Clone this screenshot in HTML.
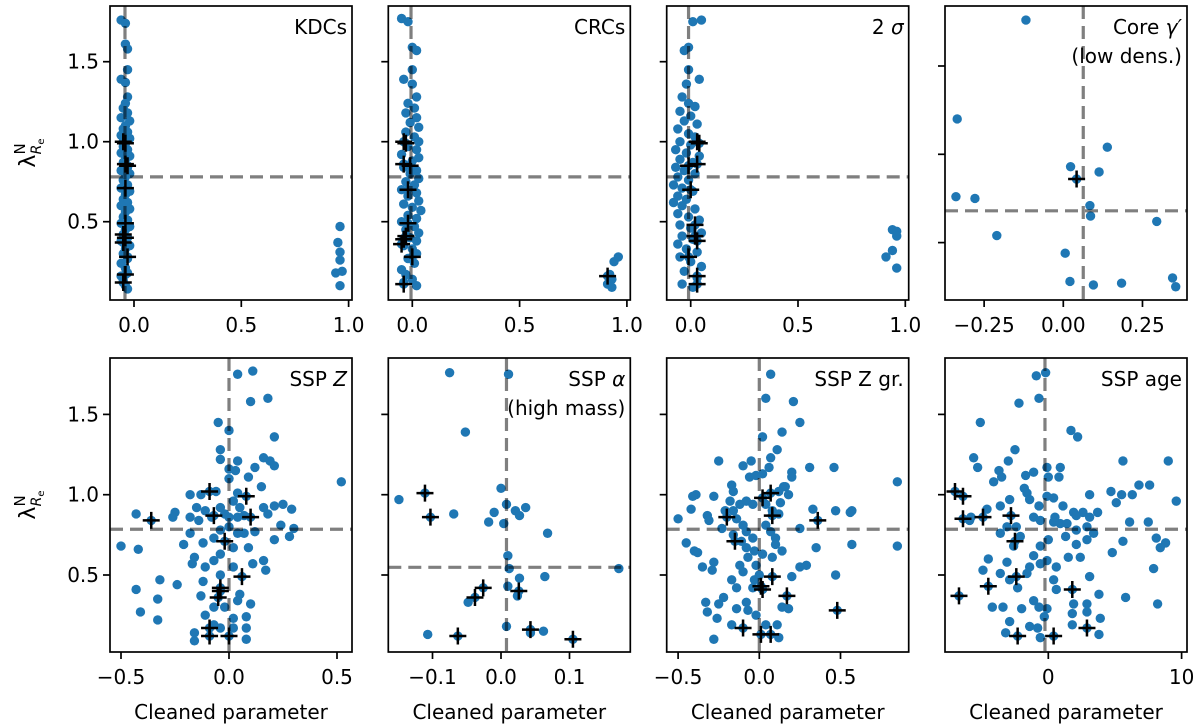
<!DOCTYPE html>
<html><head><meta charset="utf-8">
<style>
html,body{margin:0;padding:0;background:#fff;}
svg{display:block;font-family:"DejaVu Sans","Liberation Sans",sans-serif;}
</style></head>
<body>
<svg id="fig" width="1200" height="726" viewBox="0 0 1200 726" xmlns="http://www.w3.org/2000/svg"></svg>
<script>
// ---------- data (cleaned parameter, lambda) ----------
const kdcPoints = [[-0.06,1.76],[-0.04,1.74],[-0.04,1.61],[-0.03,1.58],[-0.03,1.45],[-0.06,1.39],[-0.04,1.37],[-0.03,1.28],[-0.04,1.24],[-0.05,1.21],[-0.03,1.18],[-0.06,1.15],[-0.02,1.13],[-0.04,1.10],[-0.05,1.08],[-0.03,1.06],[-0.06,1.04],[-0.02,1.02],[-0.04,0.99],[-0.05,0.97],[-0.03,0.95],[-0.06,0.93],[-0.02,0.91],[-0.04,0.89],[-0.05,0.87],[-0.03,0.84],[-0.06,0.82],[-0.02,0.80],[-0.04,0.78],[-0.05,0.76],[-0.03,0.73],[-0.06,0.71],[-0.02,0.69],[-0.04,0.67],[-0.05,0.64],[-0.03,0.62],[-0.06,0.60],[-0.02,0.58],[-0.04,0.56],[-0.05,0.53],[-0.03,0.51],[-0.06,0.49],[-0.02,0.47],[-0.04,0.45],[-0.05,0.42],[-0.03,0.40],[-0.06,0.38],[-0.02,0.35],[-0.04,0.33],[-0.05,0.30],[-0.03,0.27],[-0.06,0.24],[-0.04,0.21],[-0.03,0.18],[-0.06,0.16],[-0.05,0.13],[-0.04,0.10],[-0.03,0.08],[0.96,0.47],[0.95,0.37],[0.96,0.31],[0.96,0.26],[0.94,0.18],[0.97,0.19],[0.96,0.10]];
const kdcCrosses = [[-0.05,1.0],[-0.04,0.99],[-0.04,0.86],[-0.03,0.85],[-0.04,0.71],[-0.04,0.49],[-0.05,0.42],[-0.04,0.40],[-0.05,0.37],[-0.03,0.28],[-0.04,0.17],[-0.05,0.12]];
const crcPoints = [[-0.05,1.77],[-0.02,1.75],[0.0,1.59],[0.02,1.57],[0.0,1.45],[-0.04,1.39],[0.0,1.36],[0.02,1.28],[-0.02,1.24],[0.01,1.21],[-0.03,1.18],[0.02,1.15],[-0.01,1.12],[0.03,1.09],[-0.03,1.06],[0.01,1.03],[0.03,1.00],[-0.02,0.97],[0.02,0.95],[-0.05,0.92],[0.03,0.90],[0.0,0.88],[-0.04,0.84],[0.02,0.82],[-0.01,0.80],[0.03,0.77],[-0.03,0.75],[0.01,0.73],[-0.05,0.70],[0.02,0.68],[-0.02,0.66],[0.03,0.63],[-0.04,0.61],[0.0,0.59],[0.04,0.57],[-0.02,0.54],[0.02,0.52],[-0.05,0.50],[0.01,0.47],[-0.03,0.45],[0.03,0.43],[-0.01,0.40],[0.02,0.38],[-0.04,0.35],[0.0,0.33],[0.02,0.30],[-0.02,0.27],[0.01,0.24],[-0.05,0.20],[-0.03,0.17],[0.0,0.14],[0.02,0.10],[-0.04,0.12],[0.93,0.14],[0.92,0.17],[0.94,0.25],[0.96,0.28],[0.91,0.11],[0.93,0.09]];
const crcCrosses = [[-0.04,1.0],[-0.03,0.99],[-0.04,0.86],[-0.01,0.85],[-0.02,0.70],[-0.02,0.49],[-0.03,0.41],[-0.04,0.39],[-0.05,0.36],[0.0,0.28],[-0.04,0.11],[0.91,0.16]];
const sigPoints = [[0.01,1.75],[0.05,1.76],[-0.01,1.59],[-0.03,1.57],[-0.01,1.45],[0.04,1.39],[-0.02,1.36],[-0.04,1.28],[-0.01,1.24],[0.02,1.22],[-0.05,1.19],[0.0,1.16],[-0.03,1.13],[0.03,1.11],[-0.06,1.08],[-0.01,1.05],[0.02,1.03],[-0.05,1.00],[0.0,0.98],[-0.07,0.95],[-0.02,0.93],[0.04,0.91],[-0.05,0.89],[0.01,0.87],[-0.07,0.84],[-0.03,0.82],[0.02,0.80],[-0.06,0.78],[-0.01,0.76],[-0.08,0.73],[-0.04,0.71],[0.01,0.69],[-0.06,0.66],[-0.02,0.64],[-0.08,0.62],[-0.04,0.60],[0.02,0.58],[-0.06,0.55],[-0.01,0.53],[0.04,0.51],[-0.05,0.48],[0.0,0.46],[0.05,0.43],[-0.04,0.41],[0.01,0.39],[-0.06,0.36],[-0.02,0.33],[0.03,0.31],[-0.05,0.28],[0.0,0.25],[0.05,0.22],[-0.03,0.19],[0.03,0.15],[-0.04,0.11],[0.01,0.09],[0.94,0.45],[0.96,0.44],[0.96,0.41],[0.94,0.32],[0.91,0.28],[0.96,0.21]];
const sigCrosses = [[0.03,1.0],[0.04,0.99],[-0.01,0.85],[0.03,0.86],[0.0,0.70],[0.02,0.48],[0.02,0.41],[0.03,0.38],[-0.01,0.28],[0.03,0.16],[0.03,0.11]];
const corePoints = [[-0.118,1.76],[-0.335,1.20],[0.139,1.04],[0.023,0.93],[0.113,0.90],[0.042,0.86],[-0.339,0.76],[-0.279,0.75],[0.084,0.71],[0.086,0.65],[0.295,0.62],[-0.21,0.54],[0.006,0.44],[0.021,0.28],[0.095,0.26],[0.184,0.27],[0.345,0.30],[0.355,0.25]];
const coreCrosses = [[0.042,0.86]];
const zPoints = [[0.04,1.75],[0.11,1.77],[0.18,1.60],[0.10,1.58],[-0.05,1.45],[0,1.40],[0.21,1.36],[-0.04,1.28],[0.16,1.23],[0.19,1.21],[0.04,1.21],[-0.04,1.22],[0.21,1.18],[0.12,1.17],[0,1.16],[0.03,1.15],[0.09,1.11],[0,1.10],[0.15,1.05],[-0.18,1.00],[-0.13,1.00],[-0.06,1.02],[0.52,1.08],[-0.43,0.88],[-0.25,0.89],[-0.26,0.86],[-0.50,0.68],[-0.42,0.66],[-0.32,0.47],[-0.24,0.44],[-0.43,0.41],[-0.33,0.35],[-0.41,0.27],[-0.33,0.22],[0.21,0.93],[0.25,0.94],[0.29,0.91],[0.24,0.81],[0.30,0.79],[0.28,0.74],[0.21,0.72],[0.17,0.53],[0.16,0.59],[0.11,0.57],[0.09,0.67],[0.07,0.76],[0.12,0.77],[0.16,0.92],[0.18,0.88],[-0.15,0.92],[-0.11,0.90],[-0.14,0.84],[-0.18,0.76],[-0.21,0.69],[-0.12,0.70],[-0.08,0.86],[-0.04,0.92],[0.02,0.96],[0.05,0.92],[0.04,0.86],[0,0.80],[-0.04,0.78],[0.04,0.76],[0.02,0.67],[-0.04,0.63],[-0.07,0.59],[-0.11,0.55],[-0.16,0.61],[-0.17,0.57],[-0.12,0.46],[-0.04,0.50],[0.02,0.55],[0.05,0.38],[0.10,0.32],[0.04,0.34],[-0.02,0.30],[-0.07,0.30],[-0.13,0.37],[-0.11,0.25],[0.02,0.23],[0.08,0.24],[0.02,0.17],[0.08,0.17],[-0.04,0.17],[-0.16,0.14],[-0.16,0.09],[0.08,0.10],[-0.07,0.19],[-0.18,0.86],[-0.07,0.73],[-0.02,0.88],[0,0.86],[0.07,0.87],[0.04,1.01]];
const zCrosses = [[-0.09,1.02],[0.08,0.99],[-0.07,0.87],[0.10,0.86],[-0.36,0.84],[-0.02,0.71],[0.06,0.49],[-0.04,0.42],[-0.04,0.40],[-0.05,0.36],[-0.09,0.17],[-0.09,0.12],[0,0.12]];
const alphaPoints = [[-0.075,1.76],[0.011,1.75],[-0.052,1.39],[-0.149,0.97],[0,1.04],[-0.069,0.88],[0.008,0.94],[-0.010,0.89],[0.021,0.90],[0.036,0.92],[0.027,0.87],[-0.018,0.83],[0.004,0.82],[0.068,0.76],[0.010,0.62],[0.012,0.54],[0.027,0.48],[0.064,0.49],[0.010,0.43],[0.024,0.37],[-0.048,0.33],[0.172,0.54],[-0.107,0.13],[0.008,0.18],[0.043,0.14],[0.062,0.15]];
const alphaCrosses = [[-0.111,1.01],[-0.103,0.86],[-0.063,0.12],[-0.038,0.36],[-0.026,0.42],[0.026,0.40],[0.043,0.16],[0.105,0.10]];
const zgrPoints = [[0.07,1.75],[0.04,1.60],[0.21,1.58],[0.25,1.45],[0.02,1.36],[0.14,1.39],[0.11,1.28],[0.07,1.23],[0.06,1.17],[-0.25,1.21],[-0.10,1.18],[-0.05,1.21],[0.31,1.17],[0.46,1.17],[0.20,1.14],[0.20,1.11],[0.85,1.08],[-0.06,1.11],[-0.02,1.12],[0.02,1.13],[-0.17,1.06],[-0.16,1.02],[-0.39,1.00],[-0.41,0.99],[-0.28,0.99],[0.16,1.05],[0.18,1.00],[-0.42,0.91],[-0.50,0.85],[-0.32,0.87],[-0.31,0.84],[0.33,0.91],[0.47,0.90],[0.56,0.89],[0.57,0.90],[0.25,0.79],[-0.45,0.70],[-0.40,0.65],[-0.38,0.64],[-0.35,0.55],[-0.28,0.58],[-0.29,0.53],[0.35,0.67],[0.57,0.69],[0.85,0.68],[0.14,0.65],[0.25,0.55],[0.29,0.56],[0.20,0.49],[0.47,0.50],[-0.33,0.33],[-0.32,0.27],[-0.25,0.32],[-0.26,0.23],[-0.22,0.36],[-0.14,0.29],[-0.08,0.33],[-0.07,0.28],[-0.17,0.19],[-0.28,0.10],[-0.02,0.25],[0.04,0.19],[0.11,0.19],[0.12,0.11],[0.14,0.30],[0.18,0.29],[-0.03,0.47],[-0.04,0.42],[-0.14,0.42],[-0.17,0.47],[-0.10,0.52],[-0.12,0.56],[-0.07,0.61],[-0.08,0.67],[-0.04,0.73],[-0.08,0.77],[-0.10,0.81],[-0.14,0.85],[-0.16,0.90],[-0.12,0.94],[-0.08,0.96],[-0.04,0.94],[-0.18,0.96],[-0.21,0.90],[0.04,0.94],[0.08,0.90],[0.13,0.95],[0.12,0.88],[0.04,0.81],[0.07,0.77],[0.10,0.73],[-0.03,0.65],[0.02,0.63],[0.08,0.61],[0.10,0.69],[-0.23,0.79],[-0.16,0.75],[-0.11,0.71],[-0.02,0.56],[0,0.50],[0.15,1.05],[0.12,1.02]];
const zgrCrosses = [[0.02,0.98],[0.07,1.01],[-0.20,0.86],[0.08,0.87],[0.36,0.84],[-0.15,0.71],[0.08,0.49],[0.01,0.43],[0.02,0.41],[0.17,0.37],[0.48,0.28],[-0.10,0.17],[0.01,0.13],[0.07,0.13]];
const agePoints = [[-0.9,1.74],[-0.2,1.76],[-0.7,1.60],[-2.2,1.57],[-5.1,1.45],[1.7,1.40],[2.2,1.36],[-2.5,1.28],[-5.6,1.23],[-5.3,1.17],[-3.0,1.21],[-3.7,1.15],[-3.5,1.11],[-4.1,1.08],[-1.7,1.12],[-1.1,1.14],[-0.1,1.17],[0.9,1.17],[0.8,1.11],[0,1.11],[5.6,1.21],[9.0,1.21],[6.8,1.06],[7.6,1.06],[4.7,1.02],[5.5,1.00],[6.3,1.00],[5.1,0.95],[9.6,0.96],[3.1,1.00],[-1.8,1.04],[-1.6,1.01],[-2.9,0.97],[-3.6,0.93],[-4.6,0.91],[-5.8,0.86],[-1.4,0.97],[-0.7,0.93],[-0.1,0.99],[0.4,0.98],[1.1,0.93],[1.9,0.89],[2.6,0.89],[3.7,0.89],[3.1,0.86],[0.9,0.82],[1.4,0.82],[2.1,0.78],[2.9,0.80],[3.4,0.76],[6.1,0.83],[7.5,0.83],[8.1,0.73],[8.8,0.70],[8.4,0.67],[5.6,0.71],[4.8,0.64],[7.9,0.54],[2.9,0.72],[2.1,0.69],[1.3,0.74],[0,0.72],[-0.6,0.68],[-1.1,0.62],[-1.4,0.55],[-0.6,0.57],[-0.1,0.59],[0.6,0.55],[1.5,0.61],[2.4,0.61],[-4.5,0.60],[-3.1,0.58],[-4.9,0.53],[-3.6,0.51],[-2.9,0.47],[-2.3,0.42],[-1.6,0.51],[0.4,0.47],[0.6,0.41],[3.1,0.49],[3.8,0.38],[5.8,0.36],[8.2,0.32],[-4.2,0.30],[-3.4,0.30],[-2.0,0.29],[-1.1,0.34],[-0.7,0.30],[-0.1,0.29],[1.9,0.32],[2.9,0.32],[1.8,0.26],[2.9,0.27],[3.9,0.23],[3.8,0.13],[1.8,0.19],[-2.9,0.21],[-1.4,0.18],[-0.8,0.17],[-3.2,0.14],[-0.6,0.11],[-0.3,0.24],[-3.1,0.80],[-2.4,0.80],[-1.1,0.86],[-0.6,0.84],[0.4,0.83],[-3.6,0.76],[-2.6,0.68],[-2.1,0.74],[0.5,0.86],[2.1,0.87],[-5.9,0.84]];
const ageCrosses = [[-7.0,1.02],[-6.4,0.99],[-6.4,0.85],[-4.9,0.86],[-2.8,0.87],[-2.5,0.71],[-2.4,0.49],[-4.5,0.43],[-6.7,0.37],[1.8,0.41],[2.9,0.17],[-2.3,0.12],[0.4,0.12]];
// reference lines [vline x, hline y]
const refLines = {kdc:[-0.042,0.78],crc:[-0.006,0.78],sig:[-0.01,0.78],core:[0.063,0.68],z:[0.0,0.785],alpha:[0.008,0.548],zgr:[0.0,0.785],age:[-0.25,0.785]};
const xTicks13 = [0.0,0.5,1.0];
const xTickLabels13 = ["0.0","0.5","1.0"];
const yTicks = [0.5,1.0,1.5];
const yTickLabels = ["0.5","1.0","1.5"];

// ---------- drawing ----------
const NS="http://www.w3.org/2000/svg";
const svg=document.getElementById('fig');
function mk(tag,attrs,parent){const e=document.createElementNS(NS,tag);for(const k in attrs)e.setAttribute(k,attrs[k]);(parent||svg).appendChild(e);return e;}
const R=4.7, FS=20;
function panel(cfg){
  const g=mk('g',{});
  
  
  const L=cfg.left,T=cfg.top,W=242,H=294;
  const sx=v=>cfg.x0+v*cfg.xs, sy=v=>cfg.y1-(v-1)*cfg.ys;
  const clip='clip-'+cfg.name;
  const cp=mk('clipPath',{id:clip},g); mk('rect',{x:L,y:T,width:W,height:H},cp);
  const pg=mk('g',{'clip-path':'url(#'+clip+')'},g);
  cfg.pts.forEach(p=>{
    const c=mk('circle',{cx:sx(p[0]),cy:sy(p[1]),r:R,fill:'#1f77b4'},pg);
    
    
  });
  cfg.crs.forEach(p=>{
    const c=mk('circle',{cx:sx(p[0]),cy:sy(p[1]),r:R,fill:'#1f77b4'},pg);
    
    
  });
  cfg.crs.forEach(p=>{
    const x=sx(p[0]),y=sy(p[1]);
    const c=mk('path',{d:`M${x-8.5},${y}H${x+8.5}M${x},${y-8.5}V${y+8.5}`,stroke:'#000','stroke-width':2.5,fill:'none'},pg);
    
    
  });
  const vx=sx(cfg.ref[0]),hy=sy(cfg.ref[1]);
  const vl=mk('line',{x1:vx,x2:vx,y1:T,y2:T+H,stroke:'#000','stroke-opacity':0.5,'stroke-width':3.2,'stroke-dasharray':'13,7'},pg);
  
  
  const hl=mk('line',{x1:L,x2:L+W,y1:hy,y2:hy,stroke:'#000','stroke-opacity':0.5,'stroke-width':3.2,'stroke-dasharray':'13,7'},pg);
  
  
  const fr=mk('rect',{x:L,y:T,width:W,height:H,fill:'none',stroke:'#000','stroke-width':1.7},g);
  
  
  cfg.xt.forEach((v,i)=>{
    const x=sx(v);
    mk('line',{x1:x,x2:x,y1:T+H,y2:T+H+7,stroke:'#000','stroke-width':1.7},g);
    const t=mk('text',{x:x,y:T+H+32,'font-size':FS,'text-anchor':'middle'},g);
    t.textContent=cfg.xl[i];
    
    
  });
  yTicks.forEach((v,i)=>{
    const y=sy(v);
    mk('line',{x1:L-7,x2:L,y1:y,y2:y,stroke:'#000','stroke-width':1.7},g);
    if(cfg.ylab){
      const t=mk('text',{x:L-11,y:y+7,'font-size':FS,'text-anchor':'end'},g);
      t.textContent=yTickLabels[i];
      
      
    }
  });
  cfg.title.forEach((s,i)=>{
    const t=mk('text',{x:L+W-5,y:T+28+i*29,'font-size':FS,'text-anchor':'end'},g);
    t.innerHTML=s;
    
    
  });
  if(cfg.bottom){
    const t=mk('text',{x:L+W/2,y:T+H+67,'font-size':FS,'text-anchor':'middle'},g);
    t.textContent='Cleaned parameter';
    
    
  }
  if(cfg.ylab){
    const cy=T+H/2;
    const t=mk('text',{x:0,y:0,'font-size':22,'text-anchor':'middle',transform:`translate(35,${cy}) rotate(-90)`},g);
    t.innerHTML='λ<tspan font-size="15" dy="-10">N</tspan><tspan font-size="14" dy="16" dx="-11" font-style="italic">R</tspan><tspan font-size="10" dy="3">e</tspan>';
    
    
  }
}
const tops=[6,358];
const lefts=[110,388.3,666.7,945];
panel({name:'kdc',left:lefts[0],top:tops[0],x0:lefts[0]+24,xs:214.6,y1:141.7,ys:160,pts:kdcPoints,crs:kdcCrosses,ref:refLines.kdc,xt:xTicks13,xl:xTickLabels13,ylab:true,title:['KDCs']});
panel({name:'crc',left:lefts[1],top:tops[0],x0:lefts[1]+24,xs:214.6,y1:141.7,ys:160,pts:crcPoints,crs:crcCrosses,ref:refLines.crc,xt:xTicks13,xl:xTickLabels13,title:['CRCs']});
panel({name:'two-sigma',left:lefts[2],top:tops[0],x0:lefts[2]+24,xs:214.6,y1:141.7,ys:160,pts:sigPoints,crs:sigCrosses,ref:refLines.sig,xt:xTicks13,xl:xTickLabels13,title:['2<tspan font-style="italic"> σ</tspan>']});
panel({name:'core-gamma',left:lefts[3],top:tops[0],x0:1063.3,xs:316.7,y1:154.3,ys:176.6,pts:corePoints,crs:coreCrosses,ref:refLines.core,xt:[-0.25,0,0.25],xl:['−0.25','0.00','0.25'],title:['Core <tspan font-style="italic">γ′</tspan>','(low dens.)']});
panel({name:'ssp-z',left:lefts[0],top:tops[1],x0:229,xs:216,y1:494.7,ys:160.6,pts:zPoints,crs:zCrosses,ref:refLines.z,xt:[-0.5,0,0.5],xl:['−0.5','0.0','0.5'],ylab:true,bottom:true,title:['SSP <tspan font-style="italic">Z</tspan>']});
panel({name:'ssp-alpha',left:lefts[1],top:tops[1],x0:501,xs:685,y1:494.7,ys:160.6,pts:alphaPoints,crs:alphaCrosses,ref:refLines.alpha,xt:[-0.1,0,0.1],xl:['−0.1','0.0','0.1'],bottom:true,title:['SSP <tspan font-style="italic">α</tspan>','(high mass)']});
panel({name:'ssp-z-gr',left:lefts[2],top:tops[1],x0:759.3,xs:162.4,y1:494.7,ys:160.6,pts:zgrPoints,crs:zgrCrosses,ref:refLines.zgr,xt:[-0.5,0,0.5],xl:['−0.5','0.0','0.5'],bottom:true,title:['SSP Z gr.']});
panel({name:'ssp-age',left:lefts[3],top:tops[1],x0:1048.3,xs:13.33,y1:494.7,ys:160.6,pts:agePoints,crs:ageCrosses,ref:refLines.age,xt:[0,10],xl:['0','10'],bottom:true,title:['SSP age']});
</script>
</body></html>
